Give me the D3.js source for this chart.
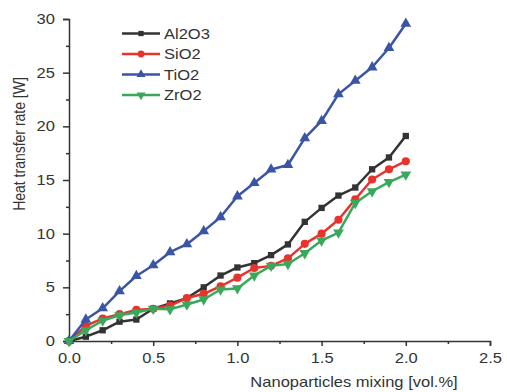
<!DOCTYPE html>
<html>
<head>
<meta charset="utf-8">
<script src="https://cdn.jsdelivr.net/npm/d3@7.9.0/dist/d3.min.js"></script>
<style>
  body { margin: 0; background: #fff; }
  svg { display: block; font-family: "Liberation Sans", Arial, sans-serif; }
  .axis path, .axis line { stroke: #333; stroke-width: 1.5; }
  .axis text { fill: #333; font-size: 14px; }
</style>
</head>
<body>
<svg id="chart" width="507" height="392"></svg>
<script>
const mixing = [0, 0.1, 0.2, 0.3, 0.4, 0.5, 0.6, 0.7, 0.8, 0.9, 1.0,
                1.1, 1.2, 1.3, 1.4, 1.5, 1.6, 1.7, 1.8, 1.9, 2.0];
const al2o3 = [0, 0.4, 1.0, 1.8, 2.0, 3.0, 3.5, 4.0, 5.0, 6.1, 6.85,
               7.25, 8.0, 9.0, 11.1, 12.4, 13.55, 14.3, 16.0, 17.1, 19.1];
const sio2 = [0, 1.4, 2.1, 2.5, 2.9, 3.0, 3.3, 4.0, 4.4, 5.1, 5.9,
              6.8, 7.0, 7.7, 9.05, 10.0, 11.3, 13.2, 15.05, 16.0, 16.75];
const tio2 = [0, 2.0, 3.05, 4.65, 6.06, 7.06, 8.27, 9.02, 10.24, 11.55, 13.48,
              14.73, 15.98, 16.4, 18.9, 20.5, 23.0, 24.25, 25.5, 27.3, 29.56];
const zro2 = [0, 1.0, 1.9, 2.4, 2.65, 3.0, 2.95, 3.4, 3.87, 4.8, 4.9,
              6.1, 7.0, 7.18, 8.18, 9.36, 10.1, 12.86, 13.95, 14.8, 15.5];

const seriesNames = ['Al2O3', 'SiO2', 'TiO2', 'ZrO2'];
const seriesValues = [al2o3, sio2, tio2, zro2];

const xMajorTicks = [0, 0.5, 1.0, 1.5, 2.0, 2.5];
const xMinorTicks = [0.25, 0.75, 1.25, 1.75, 2.25];
const yMajorTicks = [0, 5, 10, 15, 20, 25, 30];
const yMinorTicks = [2.5, 7.5, 12.5, 17.5, 22.5, 27.5];

const xTitle = 'Nanoparticles mixing [vol.%]';
const yTitle = 'Heat transfer rate [W]';

// look of each series
const colors = ['#333333', '#e8332c', '#3b55a6', '#3aa85a'];
const shapes = [d3.symbolSquare, d3.symbolCircle, d3.symbolTriangle, d3.symbolTriangle];
const sizes = [40, 52, 50, 50];
const flips = [0, 0, 0, 180];

const stretch = 1.18; // the source picture is a bit wider than tall

const svg = d3.select('#chart');
const x = d3.scaleLinear().domain([0, 2.5]).range([69, 490]);
const y = d3.scaleLinear().domain([0, 30]).range([341, 19]);

// axes
svg.append('g').attr('class', 'axis')
    .attr('transform', `translate(0,${y(0)})`)
    .call(d3.axisBottom(x).tickValues(xMinorTicks).tickSize(3).tickFormat(''))
    .call(g => g.select('.domain').remove());
svg.append('g').attr('class', 'axis')
    .attr('transform', `translate(0,${y(0)})`)
    .call(d3.axisBottom(x).tickValues(xMajorTicks).tickSizeOuter(0).tickSize(5)
        .tickPadding(7).tickFormat(d3.format('.1f')))
    .selectAll('text').attr('transform', `scale(${stretch},1)`);

svg.append('g').attr('class', 'axis')
    .attr('transform', `translate(${x(0)},0)`)
    .call(d3.axisLeft(y).tickValues(yMinorTicks).tickSize(3).tickFormat(''))
    .call(g => g.select('.domain').remove());
svg.append('g').attr('class', 'axis')
    .attr('transform', `translate(${x(0)},0)`)
    .call(d3.axisLeft(y).tickValues(yMajorTicks).tickSizeOuter(0).tickSize(6)
        .tickPadding(6).tickFormat(d3.format('d')))
    .selectAll('text').attr('transform', `scale(${stretch},1)`);

// titles
svg.append('text')
    .attr('transform', `translate(354,387) scale(${stretch},1)`)
    .attr('text-anchor', 'middle')
    .attr('font-size', 14).attr('fill', '#333')
    .text(xTitle);
svg.append('text')
    .attr('transform', `translate(25,144) rotate(-90) scale(1,${stretch})`)
    .attr('text-anchor', 'middle')
    .attr('font-size', 14).attr('fill', '#333')
    .text(yTitle);

// lines and markers
const line = d3.line().x(d => x(d[0])).y(d => y(d[1]));

seriesValues.forEach((vals, i) => {
    const pts = mixing.map((m, j) => [m, vals[j]]);
    svg.append('path')
        .attr('d', line(pts))
        .attr('fill', 'none')
        .attr('stroke', colors[i])
        .attr('stroke-width', 2.5)
        .attr('stroke-linejoin', 'round');
    svg.append('g').selectAll('path')
        .data(pts)
        .join('path')
        .attr('d', d3.symbol().type(shapes[i]).size(sizes[i]))
        .attr('transform', d => `translate(${x(d[0])},${y(d[1])}) rotate(${flips[i]})`)
        .attr('fill', colors[i]);
});

// legend
const legend = svg.append('g').attr('transform', 'translate(122,33.5)');
seriesNames.forEach((name, i) => {
    const row = legend.append('g').attr('transform', `translate(0,${i * 20.5})`);
    row.append('line')
        .attr('x1', 0).attr('x2', 38)
        .attr('stroke', colors[i]).attr('stroke-width', 2.5);
    row.append('path')
        .attr('d', d3.symbol().type(shapes[i]).size(sizes[i] * 0.7))
        .attr('transform', `translate(19,0) rotate(${flips[i]})`)
        .attr('fill', colors[i]);
    row.append('text')
        .attr('transform', `translate(42,5) scale(${stretch},1)`)
        .attr('font-size', 14).attr('fill', '#333')
        .text(name);
});
</script>
</body>
</html>
